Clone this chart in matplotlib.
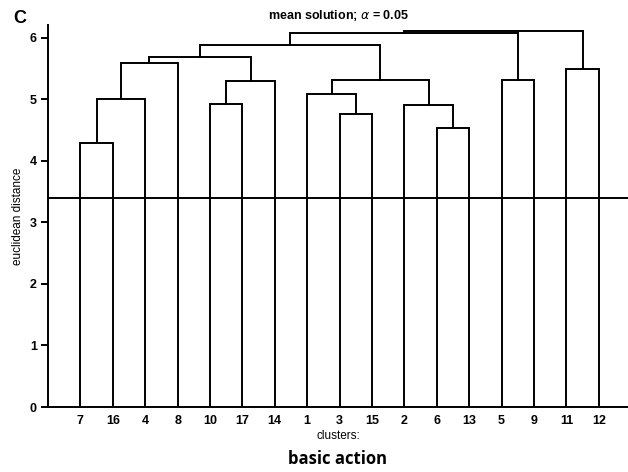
import matplotlib
matplotlib.use('Agg')
import matplotlib.pyplot as plt


# leaves in the order they are drawn along the x axis
leaf_order = [7, 16, 4, 8, 10, 17, 14, 1, 3, 15, 2, 6, 13, 5, 9, 11, 12]

# merges: children (leaf label or 'mN' = N-th earlier merge) and height
merge_a = [7, 'm0', 'm1', 10, 'm3', 'm2', 3, 1, 6, 2, 'm7', 'm5', 5, 11, 'm11', 'm14']
merge_b = [16, 4, 8, 17, 14, 'm4', 15, 'm6', 13, 'm8', 'm9', 'm10', 9, 12, 'm12', 'm13']
merge_height = [4.29, 5.01, 5.59, 4.92, 5.30, 5.69, 4.76, 5.09, 4.53, 4.91,
                5.32, 5.89, 5.31, 5.50, 6.08, 6.12]

cut_level = 3.4

font = {'family': 'Liberation Sans', 'weight': 'bold', 'size': 9}

fig = plt.figure(figsize=(6.28, 4.72), dpi=100)
ax = fig.add_axes([0.0764, 0.1377, 0.9236, 0.8093])

lw = 1.4
nodes = {}
for i, lab in enumerate(leaf_order):
	nodes[lab] = (i + 1, 0.0)

for i, (a, b, h) in enumerate(zip(merge_a, merge_b, merge_height)):
	xa, ya = nodes[a]
	xb, yb = nodes[b]
	ax.plot([xa, xa, xb, xb], [ya, h, h, yb], color='black', lw=lw,
	        solid_joinstyle='miter')
	nodes['m%d' % i] = ((xa + xb) / 2.0, h)

ax.axhline(cut_level, color='black', lw=lw)

ax.set_xlim(0, 17.9)
ax.set_ylim(0, 6.21)
ax.set_xticks(range(1, len(leaf_order) + 1))
ax.set_xticklabels([str(l) for l in leaf_order], fontdict=font)
ax.set_yticks(range(0, 7))
ax.set_yticklabels([str(v) for v in range(0, 7)], fontdict=font)
ax.tick_params(axis='x', length=0, pad=6)
ax.tick_params(axis='y', length=5, width=lw, pad=3)

for s in ['top', 'right']:
	ax.spines[s].set_visible(False)
for s in ['left', 'bottom']:
	ax.spines[s].set_linewidth(lw)

ax.set_xlabel('clusters:', family='Liberation Sans', size=8.5, labelpad=2)
ax.set_ylabel('euclidean distance', family='Liberation Sans', size=8.5, labelpad=4)
ax.set_title(r'mean solution; $\alpha$ = 0.05', fontdict=font, pad=4)

fig.text(0.021, 0.96, 'C', family='Liberation Sans', weight='bold', size=13,
         ha='left', va='center')
fig.text(0.537, 0.027, 'basic action', family='Open Sans', weight='bold',
         size=12, ha='center', va='center')

plt.savefig('out.png', dpi=100)
plt.close()
